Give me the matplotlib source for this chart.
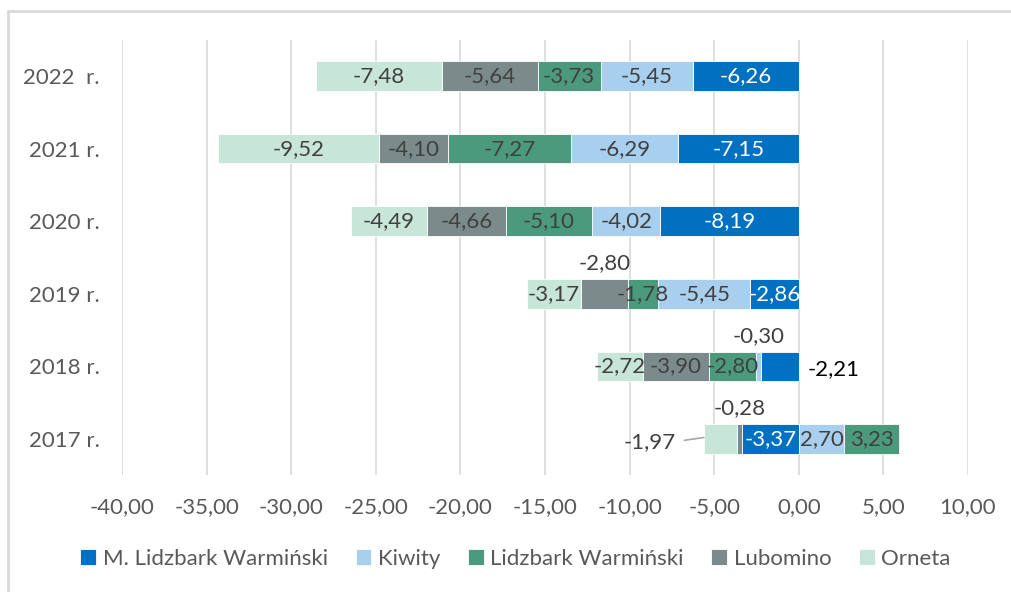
import matplotlib
matplotlib.use("Agg")
import matplotlib.pyplot as plt
from matplotlib.patches import Rectangle
import numpy as np

plt.rcParams['font.family'] = ['Lato', 'DejaVu Sans']

years = ["2017 r.", "2018 r.", "2019 r.", "2020 r.", "2021 r.", "2022  r."]
series_names = ["M. Lidzbark Warmiński", "Kiwity", "Lidzbark Warmiński", "Lubomino", "Orneta"]
m_lidzbark = [-3.37, -2.21, -2.86, -8.19, -7.15, -6.26]
kiwity = [2.70, -0.30, -5.45, -4.02, -6.29, -5.45]
lidzbark = [3.23, -2.80, -1.78, -5.10, -7.27, -3.73]
lubomino = [-0.28, -3.90, -2.80, -4.66, -4.10, -5.64]
orneta = [-1.97, -2.72, -3.17, -4.49, -9.52, -7.48]
xticks = [-40, -35, -30, -25, -20, -15, -10, -5, 0, 5, 10]

colors = ["#0070C0", "#A8CFEE", "#4C9A7E", "#7B8B8B", "#C8E5DA"]
label_colors = ["white", "#404040", "#404040", "#404040", "#404040"]

series = [m_lidzbark, kiwity, lidzbark, lubomino, orneta]

fig = plt.figure(figsize=(10.11, 5.92), dpi=100)
# outer chart border
fig.patches.append(Rectangle((8 / 1011, -0.05), 1.2, (592 - 11) / 592 + 0.05,
                             transform=fig.transFigure, fill=False,
                             edgecolor="#D9D9D9", linewidth=2, zorder=0))

ax = fig.add_axes([122 / 1011, 1 - 475.3 / 592, 846 / 1011, 435.6 / 592])
y = np.arange(len(years))
pos_cum = np.zeros(len(years))
neg_cum = np.zeros(len(years))
bar_h = 0.41

def fmt(v):
    return f"{v:.2f}".replace(".", ",")

bars_info = {}
for si, (name, vals) in enumerate(zip(series_names, series)):
    vals = np.array(vals)
    lefts = np.where(vals >= 0, pos_cum, neg_cum)
    ax.barh(y, vals, left=lefts, height=bar_h, color=colors[si], label=name,
            edgecolor="white", linewidth=0.6, zorder=3)
    for i, v in enumerate(vals):
        bars_info[(si, i)] = (lefts[i], v)
    pos_cum = pos_cum + np.where(vals >= 0, vals, 0)
    neg_cum = neg_cum + np.where(vals < 0, vals, 0)

fs = 16
for (si, i), (left, v) in bars_info.items():
    cx = left + v / 2
    txt = fmt(v)
    col = label_colors[si]
    key = (series_names[si], years[i])
    if key in [("Lubomino", "2019 r."), ("Kiwity", "2018 r."), ("Lubomino", "2017 r.")]:
        ax.annotate(txt, (cx, y[i]), xytext=(0, 22), textcoords="offset points",
                    ha="center", va="center", fontsize=fs, color="#404040", zorder=5)
    elif key == ("M. Lidzbark Warmiński", "2018 r."):
        ax.annotate(txt, (left, y[i]), xytext=(6, -2), textcoords="offset points",
                    ha="left", va="center", fontsize=fs, color="black", zorder=5)
    elif key == ("Orneta", "2017 r."):
        ax.annotate(txt, (left + v, y[i]), xytext=(-20, -2), textcoords="offset points",
                    ha="right", va="center", fontsize=fs, color="#404040", zorder=5)
        ax.annotate("", xy=(left + v, y[i] + 0.02), xytext=(-14, -2),
                    textcoords="offset points",
                    arrowprops=dict(arrowstyle="-", color="#A6A6A6", lw=1.2,
                                    shrinkA=0, shrinkB=0), zorder=5)
    else:
        ax.text(cx, y[i], txt, ha="center", va="center", fontsize=fs, color=col, zorder=5)

ax.set_xlim(-40, 10)
ax.set_ylim(-0.5, 5.5)
ax.set_xticks(xticks)
ax.set_xticklabels([fmt(t) for t in xticks], fontsize=fs, color="#595959")
ax.set_yticks(y)
ax.set_yticklabels(years, fontsize=fs, color="#595959")
ax.tick_params(axis="both", length=0)
ax.tick_params(axis="x", pad=15.5)
ax.tick_params(axis="y", pad=16)
ax.grid(axis="x", color="#D9D9D9", linewidth=1.2, zorder=0)
for s in ax.spines.values():
    s.set_visible(False)

leg = fig.legend(loc="center", bbox_to_anchor=(0.51, 1 - 559 / 592), ncol=5,
                 frameon=False, fontsize=fs, handlelength=0.7, handleheight=0.7,
                 handletextpad=0.3, columnspacing=1.25)
for t in leg.get_texts():
    t.set_color("#595959")

fig.savefig("out.png", dpi=100)
